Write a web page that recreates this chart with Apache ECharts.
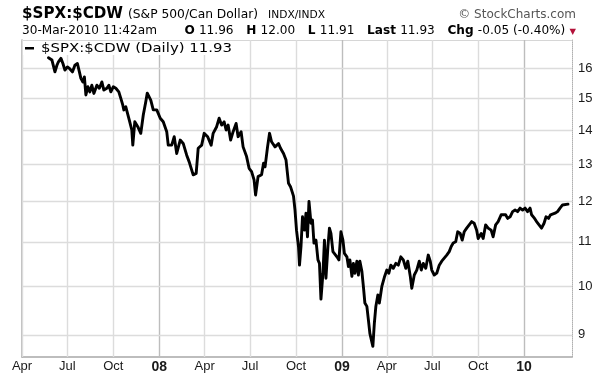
<!DOCTYPE html>
<html><head><meta charset="utf-8">
<script src="https://cdn.jsdelivr.net/npm/echarts@6/dist/echarts.min.js"></script>
<style>html,body{margin:0;padding:0;background:#fff}#c{width:614px;height:379px}</style>
</head><body><div id="c"></div>
<script>
// ---- data (SPX priced in Canadian dollars, daily, log scale) ----
const dates = [
'2007-05-24','2007-05-31','2007-06-06','2007-06-10','2007-06-13','2007-06-18','2007-06-22','2007-06-26',
'2007-07-01','2007-07-06','2007-07-11','2007-07-16','2007-07-21','2007-07-25','2007-07-28','2007-08-01',
'2007-08-04','2007-08-07','2007-08-11','2007-08-15','2007-08-19','2007-08-23','2007-08-29','2007-09-03',
'2007-09-08','2007-09-12','2007-09-18','2007-09-22','2007-09-26','2007-10-01','2007-10-06','2007-10-12',
'2007-10-16','2007-10-20','2007-10-22','2007-10-26','2007-10-30','2007-11-02','2007-11-07','2007-11-09',
'2007-11-13','2007-11-19','2007-11-25','2007-11-30','2007-12-05','2007-12-08','2007-12-15','2007-12-20',
'2007-12-27','2008-01-03','2008-01-09','2008-01-16','2008-01-19','2008-01-26','2008-01-31','2008-02-05',
'2008-02-12','2008-02-18','2008-02-25','2008-03-01','2008-03-05','2008-03-09','2008-03-15','2008-03-19',
'2008-03-26','2008-03-31','2008-04-07','2008-04-14','2008-04-18','2008-04-25','2008-04-30','2008-05-05',
'2008-05-10','2008-05-14','2008-05-18','2008-05-23','2008-05-28','2008-06-03','2008-06-07','2008-06-13',
'2008-06-17','2008-06-24','2008-06-29','2008-07-04','2008-07-09','2008-07-12','2008-07-17','2008-07-24',
'2008-07-28','2008-07-31','2008-08-05','2008-08-09','2008-08-13','2008-08-20','2008-08-27','2008-08-31',
'2008-09-06','2008-09-11','2008-09-16','2008-09-20','2008-09-26','2008-09-29','2008-10-02','2008-10-06',
'2008-10-08','2008-10-11','2008-10-14','2008-10-18','2008-10-21','2008-10-24','2008-10-27','2008-10-31',
'2008-11-03','2008-11-06','2008-11-10','2008-11-14','2008-11-17','2008-11-20','2008-11-24','2008-11-27',
'2008-11-30','2008-12-04','2008-12-07','2008-12-10','2008-12-14','2008-12-18','2008-12-22','2008-12-26',
'2008-12-30','2009-01-03','2009-01-06','2009-01-11','2009-01-14','2009-01-17','2009-01-21','2009-01-24',
'2009-01-27','2009-01-31','2009-02-03','2009-02-06','2009-02-10','2009-02-13','2009-02-16','2009-02-20',
'2009-02-23','2009-02-26','2009-03-02','2009-03-04','2009-03-07','2009-03-10','2009-03-14','2009-03-17',
'2009-03-22','2009-03-27','2009-04-01','2009-04-05','2009-04-09','2009-04-14','2009-04-19','2009-04-24',
'2009-04-29','2009-05-04','2009-05-09','2009-05-13','2009-05-18','2009-05-21','2009-05-26','2009-05-31',
'2009-06-05','2009-06-09','2009-06-13','2009-06-18','2009-06-23','2009-06-27','2009-06-30','2009-07-05',
'2009-07-10','2009-07-15','2009-07-20','2009-07-25','2009-07-30','2009-08-04','2009-08-08','2009-08-12',
'2009-08-17','2009-08-21','2009-08-26','2009-08-30','2009-09-03','2009-09-08','2009-09-11','2009-09-18',
'2009-09-23','2009-09-28','2009-10-01','2009-10-07','2009-10-11','2009-10-16','2009-10-21','2009-10-27',
'2009-10-31','2009-11-05','2009-11-10','2009-11-16','2009-11-20','2009-11-25','2009-11-29','2009-12-04',
'2009-12-09','2009-12-14','2009-12-19','2009-12-24','2009-12-29','2010-01-03','2010-01-08','2010-01-13',
'2010-01-16','2010-01-22','2010-01-26','2010-01-31','2010-02-05','2010-02-10','2010-02-14','2010-02-19',
'2010-02-23','2010-02-27','2010-03-04','2010-03-09','2010-03-14','2010-03-19','2010-03-23','2010-03-30'];
const values = [
16.36,16.28,15.87,16.10,16.22,16.34,16.16,15.93,
16.04,15.97,15.87,16.10,16.16,15.87,15.65,15.53,
15.70,15.10,15.37,15.20,15.42,15.15,15.42,15.32,
15.53,15.26,15.32,15.42,15.20,15.37,15.32,15.20,
14.99,14.77,14.62,14.72,14.67,14.30,14.00,13.55,
14.25,14.10,13.90,14.46,14.88,15.16,14.93,14.62,
14.62,14.36,14.25,13.95,13.55,13.55,13.80,13.31,
13.70,13.60,13.26,13.07,13.03,12.71,12.75,13.46,
13.55,13.90,13.80,13.55,13.90,14.10,14.36,14.15,
14.25,14.00,14.15,13.70,13.95,14.20,13.80,13.95,
13.50,13.22,12.89,12.80,12.57,12.17,12.66,12.71,
13.03,12.93,13.50,13.90,13.65,13.50,13.60,13.46,
13.31,13.12,12.48,12.39,12.14,11.78,11.28,10.89,
10.46,10.89,11.61,11.28,11.70,11.12,12.00,11.45,
11.53,10.97,11.04,10.58,10.50,9.72,10.28,11.04,
10.17,10.89,11.33,11.20,10.77,10.73,10.65,10.58,
11.24,11.04,10.73,10.65,10.43,10.58,10.21,10.50,
10.28,10.55,10.24,10.55,10.32,9.99,9.64,9.57,
9.30,9.03,9.06,8.78,9.23,9.57,9.81,9.64,
9.99,10.19,10.35,10.28,10.46,10.39,10.50,10.46,
10.65,10.58,10.39,10.55,10.21,9.95,10.24,10.35,
10.55,10.35,10.50,10.39,10.69,10.55,10.35,10.24,
10.28,10.46,10.55,10.62,10.69,10.77,10.89,10.97,
11.00,11.24,11.20,11.04,11.24,11.33,11.37,11.49,
11.45,11.28,11.08,11.20,11.08,11.41,11.33,11.28,
11.12,11.41,11.49,11.66,11.61,11.66,11.57,11.61,
11.74,11.78,11.74,11.83,11.78,11.83,11.74,11.83,
11.66,11.57,11.49,11.41,11.33,11.45,11.61,11.57,
11.66,11.61,11.70,11.74,11.83,11.91,11.95,11.93];
const yTicks = [9, 10, 11, 12, 13, 14, 15, 16];
const xTickDates = ['2007-04-01','2007-07-01','2007-10-01','2008-01-01','2008-04-01','2008-07-01',
                    '2008-10-01','2009-01-01','2009-04-01','2009-07-01','2009-10-01','2010-01-01'];
const xTickLabels = ['Apr','Jul','Oct','08','Apr','Jul','Oct','09','Apr','Jul','Oct','10'];
const yearLabels = ['08','09','10'];

const ts = s => echarts.time.parse(s).getTime();
const X_MIN = ts('2007-04-01'), X_MAX = ts('2010-04-07');
const Y_MIN = 8.58, Y_MAX = 17.0;

const chart = echarts.init(document.getElementById('c'), null, {renderer: 'canvas'});

// text fitting helper (decoration only)
const mctx = document.createElement('canvas').getContext('2d');
function measure(text, font) { mctx.font = font; return mctx.measureText(text).width; }
function fitText(text, font, x, y, width, fill, align) {
  const w = measure(text, font);
  const s = width ? width / w : 1;
  return {type: 'text', x: x, y: y, scaleX: s, silent: true, z: 100,
          style: {text: text, font: font, fill: fill || '#000', align: align || 'left', verticalAlign: 'middle'}};
}

const F = '"DejaVu Sans", Verdana, sans-serif';
const graphics = [];
graphics.push(fitText('$SPX:$CDW', 'bold 15px ' + F, 22, 14, 101, '#000'));
graphics.push(fitText('(S&P 500/Can Dollar)', '12px ' + F, 128, 15, 130, '#000'));
graphics.push(fitText('INDX/INDX', '10px ' + F, 268, 15, 57, '#000'));
(function () {
  const font = '12px ' + F;
  const w = measure('\u00A9 StockCharts.com', font);
  graphics.push({type: 'text', x: 576 - w, y: 15, silent: true, z: 100,
    style: {text: '\u00A9 StockCharts.com', font: font, fill: '#555', verticalAlign: 'middle'}});
})();
// second header line
(function () {
  const n = '11.5px ' + F, b = 'bold 11.5px ' + F;
  const toks = [['30-Mar-2010 11:42am', n], 26, ['O', b], 4, ['11.96', n], 12, ['H', b], 4, ['12.00', n], 12,
                ['L', b], 4, ['11.91', n], 12, ['Last', b], 4, ['11.93', n], 12, ['Chg', b], 4,
                ['-0.05 (-0.40%)', n], 4, ['\u25BC', '8px ' + F]];
  let cum = 0; const items = [];
  toks.forEach(t => {
    if (typeof t === 'number') { cum += t; return; }
    const w = measure(t[0], t[1]);
    items.push({t: t[0], f: t[1], x: cum}); cum += w;
  });
  const k = (576 - 22) / cum;
  items.forEach(it => {
    graphics.push({type: 'text', x: 22 + it.x * k, y: it.t === '\u25BC' ? 32 : 31, scaleX: k, silent: true, z: 100,
      style: {text: it.t, font: it.f, fill: it.t === '\u25BC' ? '#b3123a' : '#000', verticalAlign: 'middle'}});
  });
})();
// legend
graphics.push({type: 'rect', shape: {x: 23, y: 41, width: 212, height: 14}, style: {fill: '#fff'}, silent: true, z: 90});
graphics.push({type: 'rect', shape: {x: 25, y: 47, width: 9, height: 2.5}, style: {fill: '#000'}, silent: true, z: 100});
graphics.push(fitText('$SPX:$CDW (Daily) 11.93', '12px ' + F, 41, 49, 191, '#000'));

const lineData = dates.map((d, i) => [d, values[i]]);

const vLines = xTickDates.map((d, i) => {
  const isYear = yearLabels.indexOf(xTickLabels[i]) >= 0;
  return {
    xAxis: ts(d),
    lineStyle: {color: isYear ? '#bdbdbd' : '#dcdcdc', width: 1.4, type: 'solid'},
    label: {show: true, position: 'start', formatter: xTickLabels[i], distance: 3,
            color: '#1a1a1a', fontFamily: 'Liberation Sans', fontSize: isYear ? 14 : 13,
            fontWeight: isYear ? 'bold' : 'normal'}
  };
});
const hLines = yTicks.map(v => ({
  yAxis: v,
  lineStyle: {color: '#dcdcdc', width: 1.4, type: 'solid'},
  label: {show: true, position: 'end', formatter: String(v), distance: 6,
          color: '#1a1a1a', fontFamily: 'Liberation Sans', fontSize: 13}
}));

const option = {
  animation: false,
  backgroundColor: '#fff',
  grid: {left: 22, right: 42, top: 40, bottom: 22, show: false},
  xAxis: [
    {type: 'time', min: X_MIN, max: X_MAX, position: 'bottom',
     axisLine: {show: true, lineStyle: {color: '#a8a8a8', width: 1.5}},
     axisTick: {show: false}, axisLabel: {show: false}, splitLine: {show: false}},
    {type: 'time', min: X_MIN, max: X_MAX, position: 'top',
     axisLine: {show: true, lineStyle: {color: '#d6d6d6', width: 1}},
     axisTick: {show: false}, axisLabel: {show: false}, splitLine: {show: false}}
  ],
  yAxis: [
    {type: 'log', logBase: 10, min: Y_MIN, max: Y_MAX, position: 'right',
     axisLine: {show: true, lineStyle: {color: '#b0b0b0', width: 1, type: 'dotted'}},
     axisTick: {show: false}, axisLabel: {show: false}, splitLine: {show: false}},
    {type: 'log', logBase: 10, min: Y_MIN, max: Y_MAX, position: 'left',
     axisLine: {show: true, lineStyle: {color: '#a8a8a8', width: 1.5}},
     axisTick: {show: false}, axisLabel: {show: false}, splitLine: {show: false}}
  ],
  series: [
    {type: 'line', name: 'grid', xAxisIndex: 0, yAxisIndex: 0, data: [], silent: true,
     markLine: {silent: true, symbol: ['none', 'none'], animation: false, data: vLines.concat(hLines)}},
    {type: 'line', name: '$SPX:$CDW', xAxisIndex: 0, yAxisIndex: 0, data: lineData, z: 10,
     showSymbol: false, symbol: 'none', silent: true,
     lineStyle: {color: '#000', width: 2.9, join: 'round', cap: 'round'}}
  ],
  graphic: graphics
};
chart.setOption(option);
</script>
</body></html>
